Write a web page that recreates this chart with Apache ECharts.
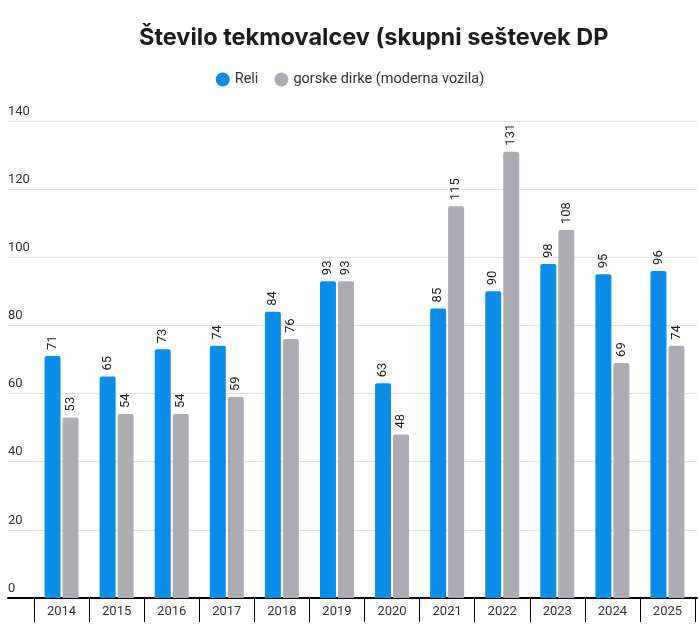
<!DOCTYPE html>
<html><head><meta charset="utf-8">
<script src="https://cdn.jsdelivr.net/npm/echarts@6/dist/echarts.min.js"></script>
<style>html,body{margin:0;padding:0;background:#fff}#c{width:700px;height:629px}</style>
</head><body><div id="c"></div>
<script>
const categories = ['2014','2015','2016','2017','2018','2019','2020','2021','2022','2023','2024','2025'];
const reli = [71,65,73,74,84,93,63,85,90,98,95,96];
const gorske = [53,54,54,59,76,93,48,115,131,108,69,74];
const seriesNames = ['Reli','gorske dirke (moderna vozila)'];
const yTicks = {min:0, max:140, interval:20};

const chart = echarts.init(document.getElementById('c'), null, {renderer:'canvas'});
const font = 'Roboto, "Noto Sans", sans-serif';
const lbl = {show:true, position:'top', rotate:90, align:'left', verticalAlign:'middle', distance:6, color:'#222', fontSize:13, fontFamily:font};
chart.setOption({
  animation:false,
  title:{text:'Število tekmovalcev (skupni seštevek DP', left:134, top:21,
    textStyle:{fontFamily:'Inter, Roboto, sans-serif', fontWeight:'bold', fontSize:23.5, color:'#1d1d1d'}},
  legend:{data:seriesNames, top:67, left:'center', icon:'circle', itemWidth:14, itemHeight:14, itemGap:16,
    textStyle:{fontFamily:font, fontSize:14.5, color:'#333'}},
  grid:[
    {left:8, right:3, top:121, bottom:31},
    {left:34, right:5, top:121, bottom:31}
  ],
  xAxis:[
    {gridIndex:0, type:'value', min:0, max:1, show:true, axisLine:{show:true, lineStyle:{color:'#000', width:2}},
      axisTick:{show:false}, axisLabel:{show:false}, splitLine:{show:false}},
    {gridIndex:1, type:'category', data:categories, boundaryGap:true,
      axisLine:{show:false}, axisTick:{show:true, length:24, lineStyle:{color:'#000', width:1}},
      axisLabel:{fontFamily:font, fontSize:13, color:'#333', margin:7}}
  ],
  yAxis:[
    {gridIndex:0, type:'value', min:yTicks.min, max:yTicks.max, interval:yTicks.interval,
      axisLine:{show:false}, axisTick:{show:false},
      splitLine:{lineStyle:{color:'#e2e2e2', width:1}},
      axisLabel:{inside:true, align:'left', verticalAlign:'bottom', margin:0, padding:[0,0,3,0],
        fontFamily:font, fontSize:13, color:'#333'}},
    {gridIndex:1, type:'value', min:yTicks.min, max:yTicks.max, interval:yTicks.interval, show:false, splitLine:{show:false}}
  ],
  series:[
    {name:seriesNames[0], type:'bar', xAxisIndex:1, yAxisIndex:1, data:reli, barWidth:16, barGap:'12.5%',
      itemStyle:{color:'#0a8ee8', borderRadius:[2,2,0,0]}, label:lbl},
    {name:seriesNames[1], type:'bar', xAxisIndex:1, yAxisIndex:1, data:gorske, barWidth:16, barGap:'12.5%',
      itemStyle:{color:'#adacb3', borderRadius:[2,2,0,0]}, label:lbl}
  ]
});
</script></body></html>
